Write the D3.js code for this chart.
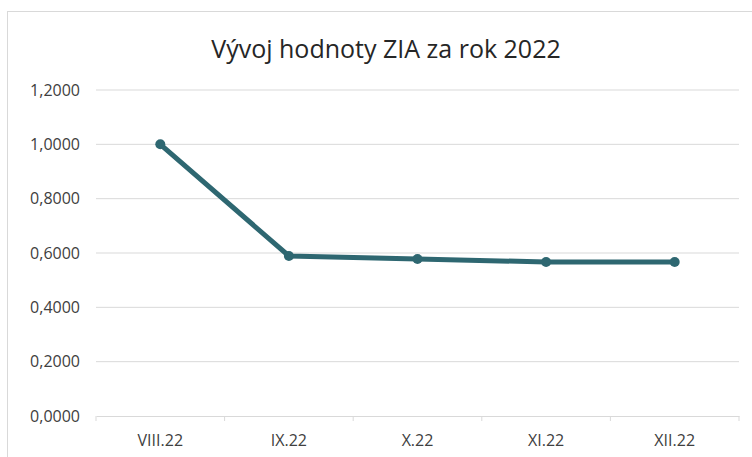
<!DOCTYPE html>
<html>
<head>
<meta charset="utf-8">
<script src="https://cdn.jsdelivr.net/npm/d3@7"></script>
<style>
  body { margin: 0; background: #fff; }
  svg text { font-family: "Open Sans", sans-serif; }
</style>
</head>
<body>
<div id="chart"></div>
<script>
// Vývoj hodnoty ZIA - čárový graf
const months = ['VIII.22', 'IX.22', 'X.22', 'XI.22', 'XII.22'];
const ziaValues = [1.0, 0.589, 0.578, 0.567, 0.567];
const yTicks = [0, 0.2, 0.4, 0.6, 0.8, 1.0, 1.2];

const W = 752, H = 457;
const margin = { top: 90, right: 13, bottom: 41, left: 96 };
const width = W - margin.left - margin.right;
const height = H - margin.top - margin.bottom;

const svg = d3.select('#chart').append('svg')
    .attr('width', W).attr('height', H);

// rámeček grafu
svg.append('rect')
    .attr('x', 7.5).attr('y', 11.5)
    .attr('width', 760).attr('height', 460)
    .attr('fill', '#fff').attr('stroke', '#d9d9d9');

svg.append('text')
    .attr('x', 386).attr('y', 58)
    .attr('text-anchor', 'middle')
    .attr('font-size', '25px')
    .attr('fill', '#262626')
    .text('Vývoj hodnoty ZIA za rok 2022');

const g = svg.append('g').attr('transform', `translate(${margin.left},${margin.top})`);

const x = d3.scaleBand().domain(months).range([0, width]);
const y = d3.scaleLinear().domain([0, 1.2]).range([height, 0]);

const fmt = v => v.toFixed(4).replace('.', ',');

// mřížka
g.append('g')
    .selectAll('line')
    .data(yTicks.filter(d => d > 0))
    .join('line')
    .attr('x1', 0).attr('x2', width)
    .attr('y1', d => y(d)).attr('y2', d => y(d))
    .attr('stroke', '#d9d9d9').attr('stroke-width', 1);

// osa Y
const yAxis = g.append('g')
    .call(d3.axisLeft(y).tickValues(yTicks).tickFormat(fmt).tickSize(0).tickPadding(16));
yAxis.select('.domain').remove();
yAxis.selectAll('text').attr('font-size', '16px').attr('fill', '#404040');

// osa X
const xAxis = g.append('g')
    .attr('transform', `translate(0,${height})`)
    .call(d3.axisBottom(x).tickSize(0).tickPadding(19));
xAxis.select('.domain').attr('stroke', '#d9d9d9');
xAxis.selectAll('text').attr('font-size', '16px').attr('fill', '#404040');
g.append('g')
    .selectAll('line')
    .data(months.map(m => x(m)).concat([width]))
    .join('line')
    .attr('x1', d => d).attr('x2', d => d)
    .attr('y1', height).attr('y2', height + 5)
    .attr('stroke', '#d9d9d9');

// čára
const line = d3.line()
    .x((d, i) => x(months[i]) + x.bandwidth() / 2)
    .y(d => y(d));

g.append('path')
    .datum(ziaValues)
    .attr('d', line)
    .attr('fill', 'none')
    .attr('stroke', '#2e6771')
    .attr('stroke-width', 5)
    .attr('stroke-linejoin', 'round');

g.selectAll('.pt')
    .data(ziaValues)
    .join('circle')
    .attr('class', 'pt')
    .attr('cx', (d, i) => x(months[i]) + x.bandwidth() / 2)
    .attr('cy', d => y(d))
    .attr('r', 5)
    .attr('fill', '#2e6771');
</script>
</body>
</html>
